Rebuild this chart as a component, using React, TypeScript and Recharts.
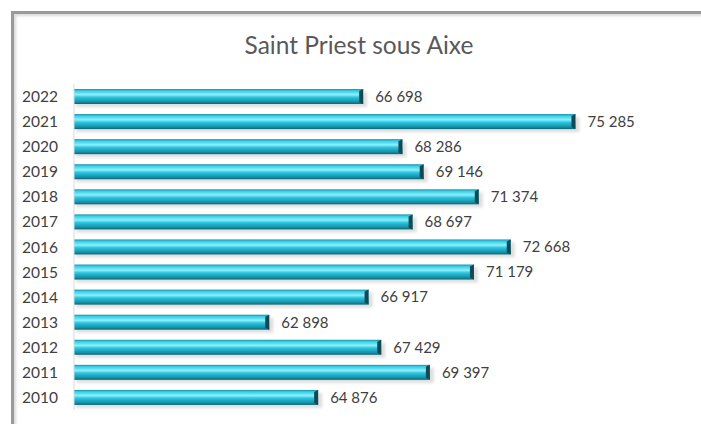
import { Bar, BarChart, LabelList, XAxis, YAxis } from "recharts";

const YEARS = ["2022", "2021", "2020", "2019", "2018", "2017", "2016", "2015", "2014", "2013", "2012", "2011", "2010"];
const POPULATION = [66698, 75285, 68286, 69146, 71374, 68697, 72668, 71179, 66917, 62898, 67429, 69397, 64876];
const X_DOMAIN: [number, number] = [55000, 80000];

const TEXT = "#404040";
const FONT = "Lato, 'Noto Sans', sans-serif";

const rows = YEARS.map((year, i) => ({ year, value: POPULATION[i] }));

const fmt = (v: number | string) => String(v).replace(/\B(?=(\d{3})+(?!\d))/g, " ");

function TubeBar(props: any) {
  const { x, y, width, height } = props;
  if (!width || width <= 0) return null;
  const cap = 4;
  return (
    <g>
      <rect x={x + 2} y={y + 3} width={width + 2} height={height} fill="#000" opacity={0.13} filter="url(#barShadow)" />
      <rect x={x} y={y} width={width} height={height} fill="url(#barGrad)" />
      <polygon
        points={`${x + width - cap},${y + 2} ${x + width},${y} ${x + width},${y + height} ${x + width - cap},${y + height - 2}`}
        fill="#0b4a57"
      />
    </g>
  );
}

export default function App() {
  return (
    <div style={{ position: "absolute", left: 0, top: 0, width: 701, height: 424, background: "#fff", overflow: "hidden", fontFamily: FONT }}>
      <div
        style={{
          position: "absolute",
          left: 11,
          top: 11,
          width: 720,
          height: 440,
          borderLeft: "3px solid #9a9a9a",
          borderTop: "3px solid #9a9a9a",
          boxShadow: "inset 2px 2px 3px rgba(0,0,0,0.15)",
        }}
      />
      <div
        style={{
          position: "absolute",
          left: 0,
          width: 718,
          top: 30,
          textAlign: "center",
          fontSize: 24.5,
          color: "#595959",
          lineHeight: "30px",
        }}
      >
        Saint Priest sous Aixe
      </div>
      <div style={{ position: "absolute", left: 0, top: 0 }}>
        <BarChart
          width={701}
          height={424}
          data={rows}
          layout="vertical"
          margin={{ top: 84, right: 9, bottom: 14, left: 0 }}
          barSize={15}
        >
          <defs>
            <linearGradient id="barGrad" x1="0" y1="0" x2="0" y2="1">
              <stop offset="0" stopColor="#168ea3" />
              <stop offset="0.12" stopColor="#35cde6" />
              <stop offset="0.38" stopColor="#8eeffb" />
              <stop offset="0.55" stopColor="#2cc4df" />
              <stop offset="0.85" stopColor="#1493a9" />
              <stop offset="1" stopColor="#0c6474" />
            </linearGradient>
            <filter id="barShadow" x="-5%" y="-50%" width="110%" height="200%">
              <feGaussianBlur stdDeviation="1.5" />
            </filter>
          </defs>
          <XAxis type="number" domain={X_DOMAIN} hide allowDataOverflow />
          <YAxis
            type="category"
            dataKey="year"
            width={74}
            tickLine={false}
            tickMargin={10}
            axisLine={{ stroke: "#d9d9d9" }}
            tick={{ fill: TEXT, fontSize: 15.5, fontFamily: FONT }}
          />
          <Bar dataKey="value" isAnimationActive={false} shape={TubeBar}>
            <LabelList
              dataKey="value"
              position="right"
              offset={12}
              formatter={fmt}
              style={{ fill: TEXT, fontSize: 15, fontFamily: FONT }}
            />
          </Bar>
        </BarChart>
      </div>
    </div>
  );
}
